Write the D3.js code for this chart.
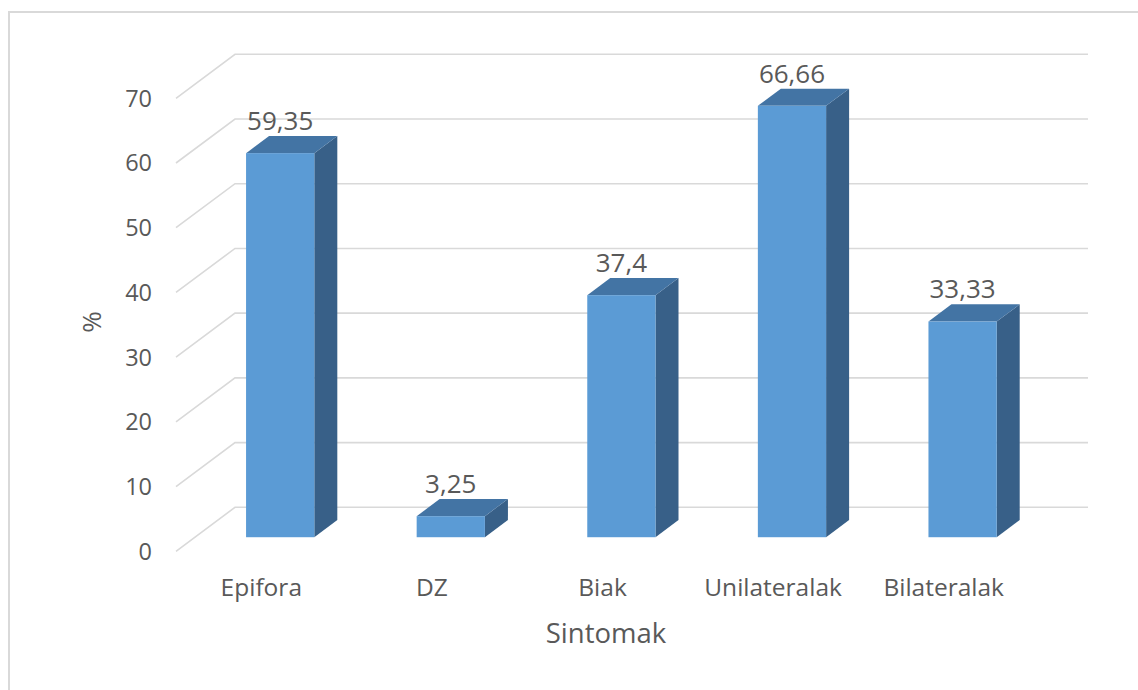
<!DOCTYPE html>
<html>
<head>
<meta charset="utf-8">
<script src="https://cdn.jsdelivr.net/npm/d3@7"></script>
<style>
  html, body { margin: 0; padding: 0; background: #fff; }
  svg { display: block; font-family: "Open Sans", "Noto Sans", sans-serif; }
</style>
</head>
<body>
<svg id="chart" width="1138" height="690"></svg>
<script>
// Symptom shares (%)
const categories = ["Epifora", "DZ", "Biak", "Unilateralak", "Bilateralak"];
const values = [59.35, 3.25, 37.4, 66.66, 33.33];
const valueLabels = ["59,35", "3,25", "37,4", "66,66", "33,33"];
const yTicks = [0, 10, 20, 30, 40, 50, 60, 70];
const yTitle = "%";
const xTitle = "Sintomak";

const svg = d3.select("#chart");

// Outer chart frame
svg.append("rect")
  .attr("x", 9).attr("y", 12)
  .attr("width", 1300).attr("height", 900)
  .attr("fill", "none").attr("stroke", "#d9d9d9").attr("stroke-width", 2);

// Back wall plane of the 3D plot
const wallLeft = 235, wallRight = 1088;
const depthDX = -59, depthDY = 44;   // offset from back wall to front edge of the floor
const proj = (x, y, t) => [x + depthDX * t, y + depthDY * t];

const y = d3.scaleLinear().domain([0, 70]).range([507.3, 54.3]);
const x = d3.scaleBand().domain(categories)
  .range([wallLeft, wallRight])
  .paddingInner(0.6).paddingOuter(0.3);

// Gridlines: diagonal on the side wall, horizontal across the back wall
const grid = svg.append("g").attr("fill", "none")
  .attr("stroke", "#d9d9d9").attr("stroke-width", 1.6);
yTicks.forEach(v => {
  const [fx, fy] = proj(wallLeft, y(v), 1);
  grid.append("path")
    .attr("d", `M${fx},${fy}L${wallLeft},${y(v)}L${wallRight},${y(v)}`);
});

// Y tick labels at the front edge
const textColor = "#595959";
svg.append("g").selectAll("text").data(yTicks).join("text")
  .attr("x", 152)
  .attr("y", d => proj(wallLeft, y(d), 1)[1])
  .attr("dy", "0.36em")
  .attr("text-anchor", "end")
  .attr("fill", textColor)
  .attr("font-size", 23.5)
  .text(d => d);

// Bars (front face at depth t0, back face at depth t1)
const tFront = 0.68, tBack = 0.29;
const bars = svg.append("g");
categories.forEach((c, i) => {
  const v = values[i];
  const x0 = x(c), x1 = x(c) + x.bandwidth();
  const yb = y(0), yt = y(v);
  const F = (xx, yy) => proj(xx, yy, tFront);
  const B = (xx, yy) => proj(xx, yy, tBack);
  const pts = a => a.map(p => p.join(",")).join(" ");
  // side face
  bars.append("polygon")
    .attr("points", pts([F(x1, yb), B(x1, yb), B(x1, yt), F(x1, yt)]))
    .attr("fill", "#386088");
  // top face
  bars.append("polygon")
    .attr("points", pts([F(x0, yt), B(x0, yt), B(x1, yt), F(x1, yt)]))
    .attr("fill", "#4374a4");
  // front face
  const [fx0, fyt] = F(x0, yt);
  const [, fyb] = F(x0, yb);
  bars.append("rect")
    .attr("x", fx0).attr("y", fyt)
    .attr("width", x.bandwidth()).attr("height", fyb - fyt)
    .attr("fill", "#5b9bd5");
  // value label above the bar
  const [cx] = F(x0 + x.bandwidth() / 2, yt);
  const [, by] = B(x0, yt);
  svg.append("text")
    .attr("x", cx).attr("y", by - 6)
    .attr("text-anchor", "middle")
    .attr("fill", textColor)
    .attr("font-size", 26)
    .text(valueLabels[i]);
});

// Category labels, centred on the front edge of the floor
svg.append("g").selectAll("text").data(categories).join("text")
  .attr("x", d => proj(x(d) + x.bandwidth() / 2, 0, 1)[0])
  .attr("y", 596)
  .attr("text-anchor", "middle")
  .attr("fill", textColor)
  .attr("font-size", 24.5)
  .text(d => d);

// Axis titles
svg.append("text")
  .attr("x", 606).attr("y", 643)
  .attr("text-anchor", "middle")
  .attr("fill", textColor)
  .attr("font-size", 27.5)
  .text(xTitle);

svg.append("text")
  .attr("transform", "translate(101,322) rotate(-90)")
  .attr("text-anchor", "middle")
  .attr("fill", textColor)
  .attr("font-size", 26)
  .text(yTitle);
</script>
</body>
</html>
